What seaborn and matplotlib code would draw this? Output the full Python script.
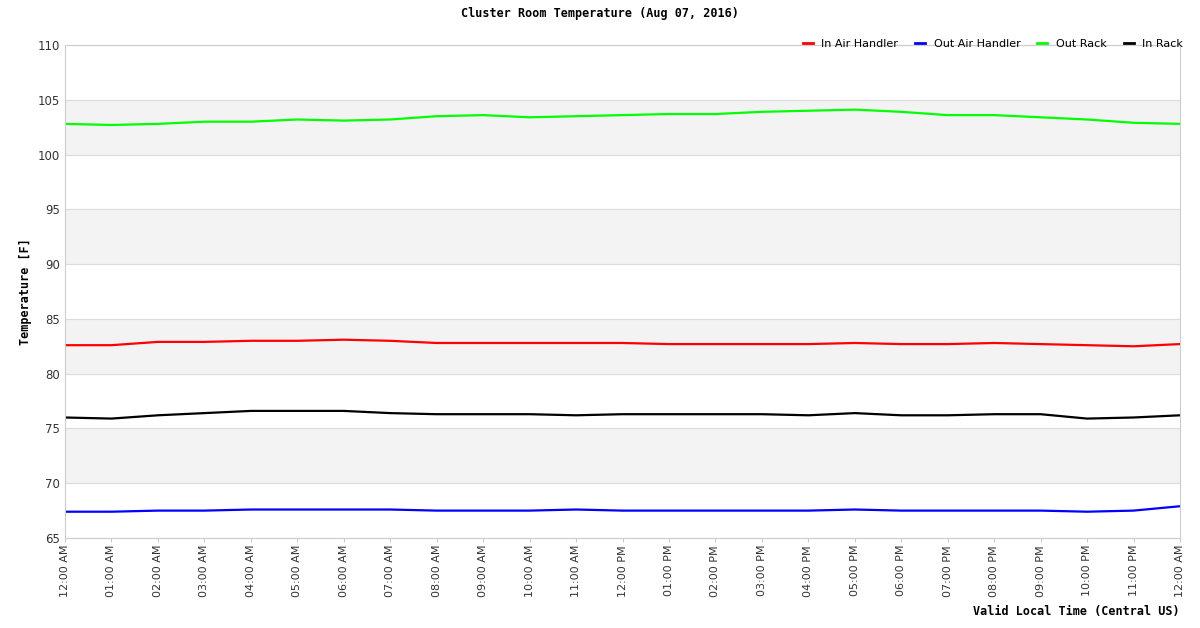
import numpy as np
import pandas as pd
import matplotlib
matplotlib.use("Agg")
import matplotlib.pyplot as plt
import seaborn as sns

# hourly readings, 12 AM to 12 AM next day
hours = list(range(25))
in_air_handler = [82.6, 82.6, 82.9, 82.9, 83.0, 83.0, 83.1, 83.0, 82.8, 82.8, 82.8, 82.8, 82.8,
                  82.7, 82.7, 82.7, 82.7, 82.8, 82.7, 82.7, 82.8, 82.7, 82.6, 82.5, 82.7]
out_air_handler = [67.4, 67.4, 67.5, 67.5, 67.6, 67.6, 67.6, 67.6, 67.5, 67.5, 67.5, 67.6, 67.5,
                   67.5, 67.5, 67.5, 67.5, 67.6, 67.5, 67.5, 67.5, 67.5, 67.4, 67.5, 67.9]
out_rack = [102.8, 102.7, 102.8, 103.0, 103.0, 103.2, 103.1, 103.2, 103.5, 103.6, 103.4, 103.5, 103.6,
            103.7, 103.7, 103.9, 104.0, 104.1, 103.9, 103.6, 103.6, 103.4, 103.2, 102.9, 102.8]
in_rack = [76.0, 75.9, 76.2, 76.4, 76.6, 76.6, 76.6, 76.4, 76.3, 76.3, 76.3, 76.2, 76.3,
           76.3, 76.3, 76.3, 76.2, 76.4, 76.2, 76.2, 76.3, 76.3, 75.9, 76.0, 76.2]
tick_labels = ["12:00 AM"] + [f"{h:02d}:00 AM" for h in range(1, 12)] + ["12:00 PM"] + \
              [f"{h:02d}:00 PM" for h in range(1, 12)] + ["12:00 AM"]

series = {"In Air Handler": in_air_handler, "Out Air Handler": out_air_handler,
          "Out Rack": out_rack, "In Rack": in_rack}
colors = {"In Air Handler": "#ff0000", "Out Air Handler": "#0000ff",
          "Out Rack": "#00ff00", "In Rack": "#000000"}

df = pd.DataFrame([(h, name, v) for name, vals in series.items() for h, v in zip(hours, vals)],
                  columns=["hour", "series", "temp"])

fig = plt.figure(figsize=(12, 6.28), dpi=100)
ax = fig.add_axes([65 / 1200, 1 - 538 / 628, 1115 / 1200, 493 / 628])

for lo in (70, 80, 90, 100):
    ax.axhspan(lo, lo + 5, color="#f3f3f3", zorder=0)
for y in range(65, 111, 5):
    ax.axhline(y, color="#dddddd", lw=0.8, zorder=0.5)

sns.lineplot(data=df, x="hour", y="temp", hue="series", palette=colors, ax=ax, lw=1.6, legend=False)

ax.set_xlim(0, 24)
ax.set_ylim(65, 110)
ax.set_xticks(hours)
ax.set_xticklabels(tick_labels, rotation=90, fontsize=8, color="#333333")
ax.set_yticks(range(65, 111, 5))
ax.tick_params(axis="y", labelsize=8.5, colors="#333333", length=0)
ax.tick_params(axis="x", length=3, color="#cccccc", pad=2)
for s in ax.spines.values():
    s.set_color("#cccccc")
ax.set_xlabel("")
ax.set_ylabel("Temperature [F]", family="DejaVu Sans Mono", fontweight="bold", fontsize=8.5)
fig.text(1180 / 1200, 1 - 611 / 628, "Valid Local Time (Central US)", ha="right", va="center",
         family="DejaVu Sans Mono", fontweight="bold", fontsize=8.5)
fig.text(0.5, 1 - 13 / 628, "Cluster Room Temperature (Aug 07, 2016)", ha="center", va="center",
         family="DejaVu Sans Mono", fontweight="bold", fontsize=8.5)

handles = [plt.Line2D([], [], color=c, lw=2) for c in colors.values()]
fig.legend(handles, list(colors.keys()), loc="upper right", bbox_to_anchor=(1190 / 1200, 1 - 32 / 628),
           ncol=4, frameon=False, fontsize=8, handlelength=0.9, columnspacing=1.5,
           borderpad=0.1)

fig.savefig("out.png", dpi=100)
